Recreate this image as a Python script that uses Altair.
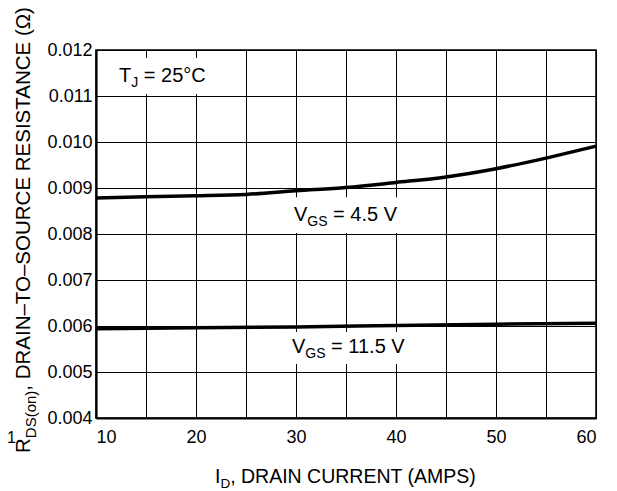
import altair as alt
import pandas as pd

# ---- data ----
id_amps = [10, 15, 20, 25, 30, 35, 40, 45, 50, 55, 60]
r_vgs45 = [0.00878, 0.00881, 0.00883, 0.00886, 0.00894, 0.00901, 0.00912, 0.00924, 0.00942, 0.00965, 0.00991]
id_amps_b = [10, 20, 30, 40, 50, 60]
r_vgs115 = [0.00594, 0.00596, 0.00598, 0.00601, 0.00604, 0.00606]

x_ticks = [10, 15, 20, 25, 30, 35, 40, 45, 50, 55, 60]
y_ticks = [0.004, 0.005, 0.006, 0.007, 0.008, 0.009, 0.010, 0.011, 0.012]

# annotation anchors (data units)
vgs_x = [29.8, 29.6]
vgs_y = [0.008293, 0.005413]
vgs_rest = ["= 4.5 V", "= 11.5 V"]
tj_x = [12.3]
tj_y = [0.0113]
# white backgrounds behind labels (data units)
box_x1 = [29.2, 29.0, 11.6]
box_x2 = [40.6, 41.2, 21.6]
box_y1 = [0.00802, 0.005174, 0.011043]
box_y2 = [0.00880, 0.00587, 0.011826]

FONT = "Liberation Sans"

curves = pd.concat([
    pd.DataFrame({"id": id_amps, "r": r_vgs45, "s": "4.5"}),
    pd.DataFrame({"id": id_amps_b, "r": r_vgs115, "s": "11.5"}),
])
vgs = pd.DataFrame({"x": vgs_x, "y": vgs_y, "rest": vgs_rest})
tj = pd.DataFrame({"x": tj_x, "y": tj_y})
boxes = pd.DataFrame({"x1": box_x1, "x2": box_x2, "y1": box_y1, "y2": box_y2})
one = pd.DataFrame({"k": [0]})

xs = alt.Scale(domain=[10, 60], nice=False, zero=False)
ys = alt.Scale(domain=[0.004, 0.012], nice=False, zero=False)

xax = alt.Axis(values=x_ticks, labelExpr="datum.value % 10 == 0 ? datum.label : ''",
               title=None, labelPadding=10)
yax = alt.Axis(values=y_ticks, format=".3f", title=None, labelPadding=4)

base_rect = alt.Chart(boxes).mark_rect(fill="white").encode(
    x=alt.X("x1:Q", scale=xs, axis=xax), x2="x2:Q",
    y=alt.Y("y1:Q", scale=ys, axis=yax), y2="y2:Q",
)

lines = alt.Chart(curves).mark_line(color="black", strokeWidth=3.5, interpolate="monotone").encode(
    x=alt.X("id:Q", scale=xs), y=alt.Y("r:Q", scale=ys), detail="s:N"
)

def txt(df, size, dx=0, dy=0, **kw):
    return alt.Chart(df).mark_text(font=FONT, fontSize=size, align="left", baseline="alphabetic",
                                   color="black", dx=dx, dy=dy, **kw)

v_main = txt(vgs, 20, text="V").encode(x=alt.X("x:Q", scale=xs), y=alt.Y("y:Q", scale=ys))
v_sub = txt(vgs, 14, dx=13.3, dy=5, text="GS").encode(x=alt.X("x:Q", scale=xs), y=alt.Y("y:Q", scale=ys))
v_rest = txt(vgs, 20, dx=39.1).encode(x=alt.X("x:Q", scale=xs), y=alt.Y("y:Q", scale=ys), text="rest:N")

t_main = txt(tj, 20, text="T").encode(x=alt.X("x:Q", scale=xs), y=alt.Y("y:Q", scale=ys))
t_sub = txt(tj, 14, dx=12.2, dy=5, text="J").encode(x=alt.X("x:Q", scale=xs), y=alt.Y("y:Q", scale=ys))
t_rest = txt(tj, 20, dx=24.8, text="= 25°C").encode(x=alt.X("x:Q", scale=xs), y=alt.Y("y:Q", scale=ys))

# x title
xt1 = txt(one, 19.5, text="I").encode(x=alt.value(119), y=alt.value(433))
xt2 = txt(one, 13.5, dx=5.4, dy=5, text="D").encode(x=alt.value(119), y=alt.value(433))
xt3 = txt(one, 19.5, dx=15.2, text=", DRAIN CURRENT (AMPS)").encode(x=alt.value(119), y=alt.value(433))

# y title (rotated)
yt1 = txt(one, 20.5, angle=270, text="R").encode(x=alt.value(-66), y=alt.value(403))
yt2 = txt(one, 15, angle=270, dx=14.8, dy=6, text="DS(on)").encode(x=alt.value(-66), y=alt.value(403))
yt3 = txt(one, 20.5, angle=270, dx=62.3, text=", DRAIN–TO–SOURCE RESISTANCE (Ω)").encode(
    x=alt.value(-66), y=alt.value(403))

stray = txt(one, 16, text="1").encode(x=alt.value(-89), y=alt.value(393))

chart = alt.layer(
    base_rect, lines, v_main, v_sub, v_rest, t_main, t_sub, t_rest,
    xt1, xt2, xt3, yt1, yt2, yt3, stray
).properties(
    width=500, height=368,
    autosize=alt.AutoSizeParams(type="none"),
    padding={"left": 88, "top": 42, "right": 13, "bottom": 73},
    background="white",
).configure_view(
    stroke="black", strokeWidth=1.5
).configure_axis(
    grid=True, gridColor="#000000", gridWidth=1, gridOpacity=1,
    domainColor="black", domainWidth=2.2, ticks=False, tickSize=0,
    labelFont=FONT, labelFontSize=18, labelColor="black",
)

chart.save("out.html", embed_options={"renderer": "svg", "actions": False})
